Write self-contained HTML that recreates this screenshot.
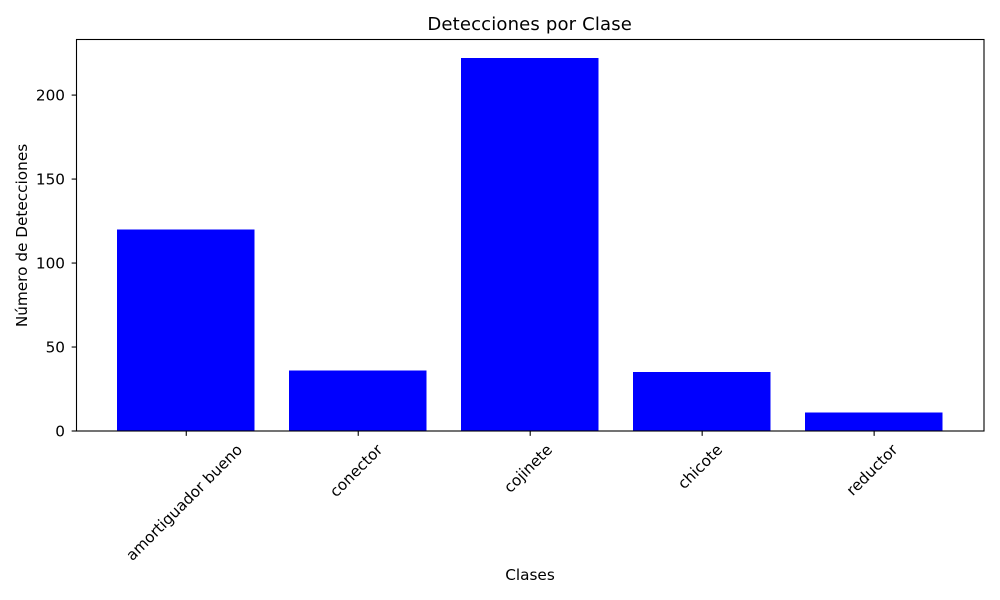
<!DOCTYPE html>
<html lang="es">
<head>
<meta charset="utf-8">
<title>Detecciones por Clase</title>
<style>
html,body{margin:0;padding:0;background:#fff;}
svg{display:block;font-family:"DejaVu Sans",sans-serif;fill:#000;}
</style>
</head>
<body>
<svg id="chart" width="1000" height="600" viewBox="0 0 1000 600" xmlns="http://www.w3.org/2000/svg">
<rect x="0" y="0" width="1000" height="600" fill="#fff"/>
<g id="bars" shape-rendering="crispEdges"></g>
<g id="xticks"></g>
<g id="yticks"></g>
<rect x="76.5" y="39.5" width="907.5" height="391.5" fill="none" stroke="#000" stroke-width="1.1"/>
<text x="529.7" y="30" font-size="18.06" letter-spacing="0.15" text-anchor="middle">Detecciones por Clase</text>
<text x="530" y="580" font-size="15.28" text-anchor="middle">Clases</text>
<text transform="translate(27 235.5) rotate(-90)" font-size="15.28" text-anchor="middle">Número de Detecciones</text>
</svg>
<script>
const categories = ['amortiguador bueno', 'conector', 'cojinete', 'chicote', 'reductor'];
const detections = [120, 36, 222, 35, 11];
const yTickLabels = [0, 50, 100, 150, 200];

const NS = 'http://www.w3.org/2000/svg';
const plot = { left: 75.7, right: 983.7, top: 39.5, bottom: 431 };
const barWidth = 0.8;
const xMargin = 0.05 * (categories.length - 1 + barWidth);
const xMin = -barWidth / 2 - xMargin;
const xMax = categories.length - 1 + barWidth / 2 + xMargin;
const yMax = Math.max(...detections) * 1.05;

function xScale(v) {
  return plot.left + (v - xMin) / (xMax - xMin) * (plot.right - plot.left);
}
function yScale(v) {
  return plot.bottom - v / yMax * (plot.bottom - plot.top);
}
function make(tag, attrs, parent) {
  const el = document.createElementNS(NS, tag);
  for (const k in attrs) el.setAttribute(k, attrs[k]);
  parent.appendChild(el);
  return el;
}

const barsGroup = document.getElementById('bars');
const xGroup = document.getElementById('xticks');
const yGroup = document.getElementById('yticks');

detections.forEach(function (value, i) {
  const x0 = xScale(i - barWidth / 2);
  const x1 = xScale(i + barWidth / 2);
  const y = yScale(value);
  const bar = make('rect', { x: x0, y: y, width: x1 - x0, height: plot.bottom - y, fill: '#0000ff' }, barsGroup);
  
  
});

categories.forEach(function (label, i) {
  const x = xScale(i);
  const tick = make('line', { x1: x + 0.5, x2: x + 0.5, y1: plot.bottom, y2: plot.bottom + 4.86, stroke: '#000', 'stroke-width': 1.1 }, xGroup);
  
  
  const text = make('text', { 'font-size': 15.28, 'text-anchor': 'middle', 'dominant-baseline': 'central' }, xGroup);
  
  
  text.textContent = label;
  const w = text.getComputedTextLength();
  const h = 16;
  const rotatedHeight = (w + h) * Math.SQRT1_2;
  const cy = plot.bottom + 10.5 + rotatedHeight / 2;
  text.setAttribute('transform', 'translate(' + (x - 1.5) + ' ' + cy + ') rotate(-45)');
});

yTickLabels.forEach(function (value) {
  const y = yScale(value);
  const tick = make('line', { x1: 76.5 - 4.86, x2: 76.5, y1: y, y2: y, stroke: '#000', 'stroke-width': 1.1 }, yGroup);
  
  
  const text = make('text', { x: 65, y: y + 5.5, 'font-size': 15.28, 'text-anchor': 'end' }, yGroup);
  
  
  text.textContent = value;
});
</script>
</body>
</html>
